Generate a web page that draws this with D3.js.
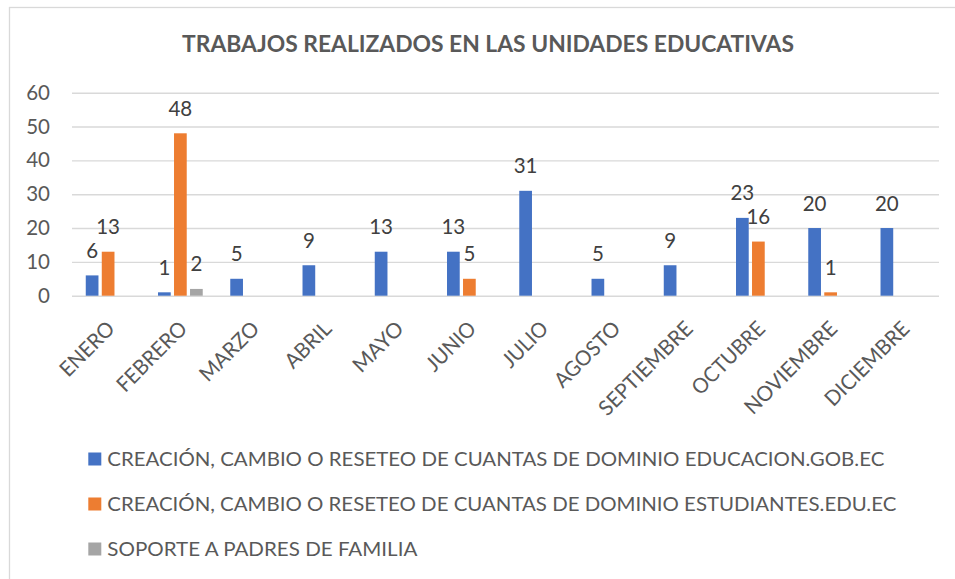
<!DOCTYPE html>
<html>
<head>
<meta charset="utf-8">
<script src="https://cdn.jsdelivr.net/npm/d3@7"></script>
<style>
  html, body { margin: 0; padding: 0; background: #fff; }
  svg { display: block; font-family: Lato, "Open Sans", sans-serif; }
</style>
</head>
<body>
<svg id="chart" width="955" height="579"></svg>
<script>
const title = "TRABAJOS REALIZADOS EN LAS UNIDADES EDUCATIVAS";
const months = ["ENERO","FEBRERO","MARZO","ABRIL","MAYO","JUNIO","JULIO","AGOSTO","SEPTIEMBRE","OCTUBRE","NOVIEMBRE","DICIEMBRE"];
const seriesNames = [
  "CREACIÓN, CAMBIO O RESETEO DE CUANTAS DE DOMINIO EDUCACION.GOB.EC",
  "CREACIÓN, CAMBIO O RESETEO DE CUANTAS DE DOMINIO ESTUDIANTES.EDU.EC",
  "SOPORTE A PADRES DE FAMILIA"
];
const educacionGob = [6, 1, 5, 9, 13, 13, 31, 5, 9, 23, 20, 20];
const estudiantesEdu = [13, 48, null, null, null, 5, null, null, null, 16, 1, null];
const soportePadres = [null, 2, null, null, null, null, null, null, null, null, null, null];
const yTicks = [0, 10, 20, 30, 40, 50, 60];
const colors = ["#4472C4", "#ED7D31", "#A5A5A5"];

const seriesValues = [educacionGob, estudiantesEdu, soportePadres];

// approximate Calibri advance widths (em) used to size rotated labels like the original
const capWidths = {A:.579,B:.544,C:.533,D:.615,E:.488,F:.459,G:.631,H:.623,I:.252,J:.319,K:.520,L:.420,M:.855,N:.646,O:.662,P:.517,Q:.673,R:.543,S:.459,T:.487,U:.642,V:.567,W:.890,X:.519,Y:.487,Z:.468};
const labelEm = 24;
const textWidth = s => s.split("").reduce((a, c) => a + (capWidths[c] || .5), 0) * labelEm;

const svg = d3.select("#chart");

// chart border
svg.append("rect")
  .attr("x", 9.5).attr("y", 7.5)
  .attr("width", 1000).attr("height", 700)
  .attr("fill", "none").attr("stroke", "#d9d9d9").attr("stroke-width", 1.3);

const plot = { left: 72, right: 939, top: 92.7, bottom: 295.7 };

const x0 = d3.scaleBand().domain(months)
  .range([plot.left, plot.right])
  .paddingInner(0.381).paddingOuter(0.1905);
const x1 = d3.scaleBand().domain(d3.range(seriesValues.length))
  .range([0, x0.bandwidth()])
  .paddingInner(0.206).paddingOuter(0);
const y = d3.scaleLinear().domain([0, 60]).range([plot.bottom, plot.top]);

// title
svg.append("text")
  .attr("x", 488).attr("y", 52)
  .attr("text-anchor", "middle")
  .attr("font-weight", "bold")
  .attr("font-size", 22)
  .attr("fill", "#595959")
  .attr("textLength", 612).attr("lengthAdjust", "spacingAndGlyphs")
  .text(title);

// gridlines + y tick labels
const yAxis = d3.axisLeft(y).tickValues(yTicks).tickSize(-(plot.right - plot.left)).tickPadding(22);
const gy = svg.append("g").attr("transform", `translate(${plot.left},0)`).call(yAxis);
gy.select(".domain").remove();
gy.selectAll(".tick line").attr("stroke", "#d9d9d9").attr("stroke-width", 1.4);
gy.selectAll(".tick text")
  .attr("font-size", 20.5).attr("fill", "#595959")
  .attr("font-family", "Lato, sans-serif");

// bars
const flat = [];
seriesValues.forEach((arr, s) => arr.forEach((v, i) => {
  if (v !== null && v !== undefined) flat.push({ s, i, v });
}));

svg.append("g").selectAll("rect")
  .data(flat)
  .join("rect")
  .attr("x", d => x0(months[d.i]) + x1(d.s))
  .attr("y", d => y(d.v))
  .attr("width", x1.bandwidth())
  .attr("height", d => y(0) - y(d.v))
  .attr("fill", d => colors[d.s]);

// data labels
svg.append("g").selectAll("text")
  .data(flat)
  .join("text")
  .attr("x", d => x0(months[d.i]) + x1(d.s) + x1.bandwidth() / 2)
  .attr("y", d => y(d.v) - 17.5)
  .attr("text-anchor", "middle")
  .attr("font-size", 20.5)
  .attr("fill", "#404040")
  .text(d => d.v);

// x axis labels
svg.append("g").selectAll("text")
  .data(months)
  .join("text")
  .attr("transform", d => `translate(${x0(d) + x0.bandwidth() / 2 + 8},${330}) rotate(-45)`)
  .attr("text-anchor", "end")
  .attr("font-size", 21)
  .attr("fill", "#595959")
  .attr("textLength", d => textWidth(d)).attr("lengthAdjust", "spacingAndGlyphs")
  .text(d => d);

// legend
const legendRows = [459, 504, 549];
const legendWidths = [777, 789, 310];
const lg = svg.append("g");
seriesNames.forEach((name, k) => {
  lg.append("rect")
    .attr("x", 88.3).attr("y", legendRows[k] - 6.5)
    .attr("width", 13).attr("height", 13)
    .attr("fill", colors[k]);
  lg.append("text")
    .attr("x", 107.3).attr("y", legendRows[k] + 7)
    .attr("font-size", 20)
    .attr("fill", "#595959")
    .attr("textLength", legendWidths[k]).attr("lengthAdjust", "spacingAndGlyphs")
    .text(name);
});
</script>
</body>
</html>
